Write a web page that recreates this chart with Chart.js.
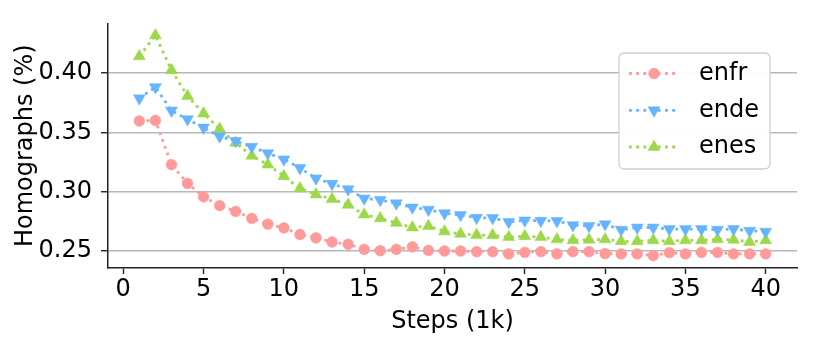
<!DOCTYPE html>
<html>
<head>
<meta charset="utf-8">
<script src="https://cdn.jsdelivr.net/npm/chart.js@4/dist/chart.umd.min.js"></script>
<style>
  html, body { margin: 0; padding: 0; background: #ffffff; }
  #wrap { width: 814px; height: 345px; position: relative; }
</style>
</head>
<body>
<div id="wrap"><canvas id="c" width="814" height="345"></canvas></div>
<script>
const steps = [1,2,3,4,5,6,7,8,9,10,11,12,13,14,15,16,17,18,19,20,21,22,23,24,25,26,27,28,29,30,31,32,33,34,35,36,37,38,39,40];
const enfr = [0.3595, 0.3600, 0.3228, 0.3070, 0.2957, 0.2883, 0.2834, 0.2775, 0.2726, 0.2695,
              0.2639, 0.2611, 0.2576, 0.2557, 0.2514, 0.2503, 0.2514, 0.2535, 0.2505, 0.2500,
              0.2500, 0.2495, 0.2495, 0.2476, 0.2489, 0.2495, 0.2476, 0.2495, 0.2495, 0.2478,
              0.2476, 0.2476, 0.2462, 0.2486, 0.2476, 0.2489, 0.2489, 0.2476, 0.2476, 0.2476];
const ende = [0.3786, 0.3880, 0.3683, 0.3610, 0.3540, 0.3465, 0.3427, 0.3378, 0.3324, 0.3272,
              0.3199, 0.3112, 0.3066, 0.3020, 0.2943, 0.2930, 0.2902, 0.2867, 0.2848, 0.2818,
              0.2804, 0.2780, 0.2778, 0.2745, 0.2758, 0.2755, 0.2753, 0.2718, 0.2712, 0.2726,
              0.2680, 0.2698, 0.2698, 0.2685, 0.2685, 0.2685, 0.2680, 0.2685, 0.2671, 0.2663];
const enes = [0.4140, 0.4316, 0.4023, 0.3805, 0.3658, 0.3528, 0.3411, 0.3302, 0.3228, 0.3130,
              0.3027, 0.2976, 0.2938, 0.2889, 0.2807, 0.2775, 0.2737, 0.2698, 0.2710, 0.2665,
              0.2644, 0.2635, 0.2633, 0.2617, 0.2625, 0.2617, 0.2598, 0.2590, 0.2595, 0.2598,
              0.2582, 0.2582, 0.2590, 0.2582, 0.2590, 0.2590, 0.2598, 0.2595, 0.2576, 0.2590];
const seriesNames = ['enfr', 'ende', 'enes'];
const xTicks = [0, 5, 10, 15, 20, 25, 30, 35, 40];
const yTicks = [0.25, 0.30, 0.35, 0.40];
const xTitle = 'Steps (1k)';
const yTitle = 'Homographs (%)';

const FONT = "'DejaVu Sans', sans-serif";
const FS = 24;
const colors = ['#ff9a9a', '#66b3ff', '#9dd84b'];
const dash = [2.8, 4.4];

function mk(label, data, color, style, rot, r) {
  return {
    label: label,
    data: steps.map((s, i) => ({x: s, y: data[i]})),
    borderColor: color,
    backgroundColor: color,
    borderWidth: 2.8,
    borderDash: dash,
    pointStyle: style,
    pointRotation: rot,
    pointRadius: r,
    pointHoverRadius: r,
    pointBorderWidth: 0.5,
    pointBorderColor: color,
    pointBackgroundColor: color,
    tension: 0,
    fill: false
  };
}

const datasets = [
  mk(seriesNames[0], enfr, colors[0], 'circle', 0, 5.4),
  mk(seriesNames[1], ende, colors[1], 'triangle', 180, 6.9),
  mk(seriesNames[2], enes, colors[2], 'triangle', 0, 6.9)
];

const legendPlugin = {
  id: 'mplLegend',
  afterDatasetsDraw(chart) {
    const ctx = chart.ctx;
    const bx = 619, by = 53, bw = 151, bh = 116, rr = 5;
    ctx.save();
    ctx.beginPath();
    ctx.moveTo(bx + rr, by);
    ctx.arcTo(bx + bw, by, bx + bw, by + bh, rr);
    ctx.arcTo(bx + bw, by + bh, bx, by + bh, rr);
    ctx.arcTo(bx, by + bh, bx, by, rr);
    ctx.arcTo(bx, by, bx + bw, by, rr);
    ctx.closePath();
    ctx.fillStyle = 'rgba(255,255,255,0.95)';
    ctx.fill();
    ctx.lineWidth = 1.3;
    ctx.strokeStyle = '#d0d0d0';
    ctx.stroke();
    const rows = [73.5, 110.3, 147];
    chart.data.datasets.forEach((ds, i) => {
      const y = rows[i];
      ctx.save();
      ctx.beginPath();
      ctx.setLineDash(ds.borderDash);
      ctx.lineWidth = ds.borderWidth;
      ctx.strokeStyle = ds.borderColor;
      ctx.moveTo(629, y);
      ctx.lineTo(679, y);
      ctx.stroke();
      ctx.restore();
      ctx.save();
      ctx.fillStyle = ds.pointBackgroundColor;
      ctx.strokeStyle = ds.pointBorderColor;
      ctx.lineWidth = ds.pointBorderWidth;
      Chart.helpers.drawPoint(ctx, {pointStyle: ds.pointStyle, rotation: ds.pointRotation, radius: ds.pointRadius, borderWidth: ds.pointBorderWidth}, 654, y);
      ctx.restore();
      ctx.fillStyle = '#000';
      ctx.font = FS + 'px ' + FONT;
      ctx.textAlign = 'left';
      ctx.textBaseline = 'middle';
      ctx.fillText(ds.label, 699, y);
    });
    ctx.restore();
  }
};

new Chart(document.getElementById('c'), {
  type: 'line',
  data: { datasets: datasets },
  plugins: [legendPlugin],
  options: {
    responsive: false,
    animation: false,
    devicePixelRatio: 1,
    layout: { padding: { left: 0, right: 17, top: 15, bottom: 0 } },
    plugins: { legend: { display: false }, tooltip: { enabled: false } },
    scales: {
      x: {
        type: 'linear',
        min: -0.95,
        max: 41.95,
        afterBuildTicks(scale) { scale.ticks = xTicks.map(v => ({value: v})); },
        afterFit(scale) { scale.height = 77; },
        grid: { drawOnChartArea: false, drawTicks: true, tickLength: 6, tickColor: '#222', tickWidth: 1.4 },
        border: { display: true, color: '#222', width: 1.5 },
        ticks: { color: '#000', font: { family: FONT, size: FS }, padding: 1, maxRotation: 0, autoSkip: false,
                 callback: v => String(v) },
        title: { display: true, text: xTitle, color: '#000', font: { family: FONT, size: FS }, padding: { top: 0, bottom: 9 } }
      },
      y: {
        type: 'linear',
        min: 0.2357,
        max: 0.4417,
        afterBuildTicks(scale) { scale.ticks = yTicks.map(v => ({value: v})); },
        afterFit(scale) { scale.width = 108; },
        grid: { drawOnChartArea: true, color: '#b8b8b8', lineWidth: 1.5, drawTicks: true, tickLength: 7, tickColor: '#222', tickWidth: 1.4 },
        border: { display: true, color: '#222', width: 1.5 },
        ticks: { color: '#000', font: { family: FONT, size: FS }, padding: 9, autoSkip: false,
                 callback: v => Number(v).toFixed(2) },
        title: { display: true, text: yTitle, color: '#000', font: { family: FONT, size: FS }, padding: { top: 11, bottom: 0 } }
      }
    }
  }
});
</script>
</body>
</html>
